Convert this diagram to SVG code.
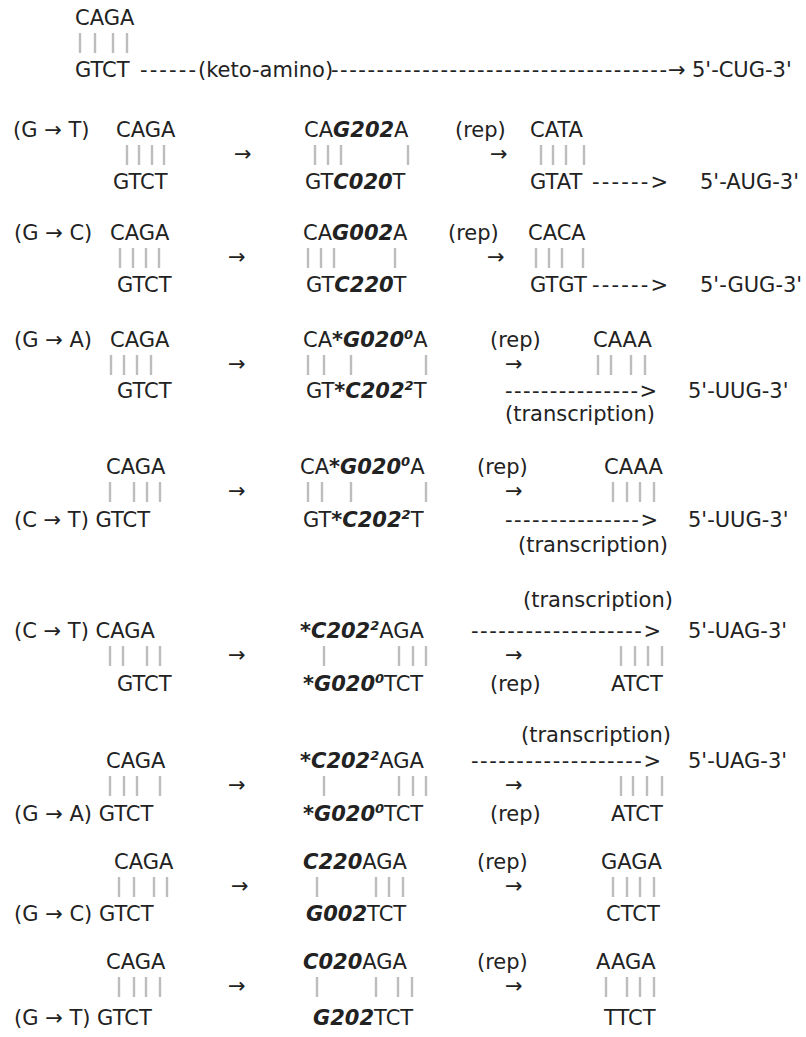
<svg xmlns="http://www.w3.org/2000/svg" width="806" height="1037" viewBox="0 0 806 1037">
<style>
text{font-family:"DejaVu Sans",Verdana,sans-serif;font-size:21px;fill:#222}
.bi{font-weight:bold;font-style:italic}
.bo{font-weight:bold}
.sp{font-size:13px;font-weight:bold;font-style:italic}
.bar{stroke:#bdbdbd;stroke-width:2.4}
</style>
<rect width="806" height="1037" fill="#fff"/>
<g id="row0">
<text x="75" y="25">CAGA</text>
<g class="bar"><path d="M80 33v20M95 33v20M113 33v20M127 33v20"/></g>
<text x="75" y="77">GTCT</text>
<text x="198" y="77">(keto-amino)</text>
<text x="692" y="77">5'-CUG-3'</text>
</g>
<g id="row1">
<text x="13" y="137">(G → T)</text>
<text x="116" y="137">CAGA</text>
<g class="bar"><path d="M127 145v20M139 145v20M152 145v20M164 145v20"/></g>
<text x="113" y="189">GTCT</text>
<text x="304" y="137">CA<tspan class="bi">G202</tspan>A</text>
<g class="bar"><path d="M315 145v20M328 145v20M341 145v20M408 145v20"/></g>
<text x="305" y="189">GT<tspan class="bi">C020</tspan>T</text>
<text x="455" y="137">(rep)</text>
<text x="530" y="137">CATA</text>
<g class="bar"><path d="M541 145v20M553 145v20M566 145v20M584 145v20"/></g>
<text x="530" y="189">GTAT</text>
<text x="700" y="189">5'-AUG-3'</text>
</g>
<g id="row2">
<text x="14" y="240">(G → C)</text>
<text x="110" y="240">CAGA</text>
<g class="bar"><path d="M120 248v20M133 248v20M146 248v20M159 248v20"/></g>
<text x="117" y="292">GTCT</text>
<text x="303" y="240">CA<tspan class="bi">G002</tspan>A</text>
<g class="bar"><path d="M308 248v20M321 248v20M334 248v20M395 248v20"/></g>
<text x="306" y="292">GT<tspan class="bi">C220</tspan>T</text>
<text x="448" y="240">(rep)</text>
<text x="528" y="240">CACA</text>
<g class="bar"><path d="M536 248v20M549 248v20M562 248v20M583 248v20"/></g>
<text x="530" y="292">GTGT</text>
<text x="700" y="292">5'-GUG-3'</text>
</g>
<g id="row3">
<text x="14" y="347">(G → A)</text>
<text x="110" y="347">CAGA</text>
<g class="bar"><path d="M111 355v20M124 355v20M137 355v20M151 355v20"/></g>
<text x="117" y="398">GTCT</text>
<text x="303" y="347">CA<tspan class="bo">*</tspan><tspan class="bi">G020</tspan><tspan class="sp" dy="-8">0</tspan><tspan dy="8">A</tspan></text>
<g class="bar"><path d="M308 355v20M324 355v20M351 355v20M426 355v20"/></g>
<text x="306" y="398">GT<tspan class="bo">*</tspan><tspan class="bi">C202</tspan><tspan class="sp" dy="-8">2</tspan><tspan dy="8">T</tspan></text>
<text x="490" y="347">(rep)</text>
<text x="593" y="347">CAAA</text>
<g class="bar"><path d="M598 355v20M611 355v20M631 355v20M645 355v20"/></g>
<text x="505" y="421">(transcription)</text>
<text x="688" y="398">5'-UUG-3'</text>
</g>
<g id="row4">
<text x="106" y="474">CAGA</text>
<g class="bar"><path d="M110 482v20M134 482v20M147 482v20M160 482v20"/></g>
<text x="14" y="527">(C → T) GTCT</text>
<text x="300" y="474">CA<tspan class="bo">*</tspan><tspan class="bi">G020</tspan><tspan class="sp" dy="-8">0</tspan><tspan dy="8">A</tspan></text>
<g class="bar"><path d="M308 482v20M322 482v20M351 482v20M426 482v20"/></g>
<text x="303" y="527">GT<tspan class="bo">*</tspan><tspan class="bi">C202</tspan><tspan class="sp" dy="-8">2</tspan><tspan dy="8">T</tspan></text>
<text x="477" y="474">(rep)</text>
<text x="604" y="474">CAAA</text>
<g class="bar"><path d="M613 482v20M627 482v20M640 482v20M654 482v20"/></g>
<text x="518" y="552">(transcription)</text>
<text x="688" y="527">5'-UUG-3'</text>
</g>
<g id="row5">
<text x="523" y="607">(transcription)</text>
<text x="14" y="638">(C → T) CAGA</text>
<g class="bar"><path d="M110 646v20M123 646v20M147 646v20M160 646v20"/></g>
<text x="117" y="691">GTCT</text>
<text x="300" y="638"><tspan class="bo">*</tspan><tspan class="bi">C202</tspan><tspan class="sp" dy="-8">2</tspan><tspan dy="8">AGA</tspan></text>
<g class="bar"><path d="M324 646v20M399 646v20M413 646v20M426 646v20"/></g>
<text x="303" y="691"><tspan class="bo">*</tspan><tspan class="bi">G020</tspan><tspan class="sp" dy="-8">0</tspan><tspan dy="8">TCT</tspan></text>
<text x="688" y="638">5'-UAG-3'</text>
<text x="490" y="691">(rep)</text>
<text x="611" y="691">ATCT</text>
<g class="bar"><path d="M621 646v20M635 646v20M648 646v20M662 646v20"/></g>
</g>
<g id="row6">
<text x="521" y="742">(transcription)</text>
<text x="106" y="768">CAGA</text>
<g class="bar"><path d="M110 776v20M124 776v20M137 776v20M160 776v20"/></g>
<text x="14" y="821">(G → A) GTCT</text>
<text x="300" y="768"><tspan class="bo">*</tspan><tspan class="bi">C202</tspan><tspan class="sp" dy="-8">2</tspan><tspan dy="8">AGA</tspan></text>
<g class="bar"><path d="M324 776v20M399 776v20M413 776v20M426 776v20"/></g>
<text x="303" y="821"><tspan class="bo">*</tspan><tspan class="bi">G020</tspan><tspan class="sp" dy="-8">0</tspan><tspan dy="8">TCT</tspan></text>
<text x="688" y="768">5'-UAG-3'</text>
<text x="490" y="821">(rep)</text>
<text x="611" y="821">ATCT</text>
<g class="bar"><path d="M621 776v20M633 776v20M647 776v20M662 776v20"/></g>
</g>
<g id="row7">
<text x="114" y="869">CAGA</text>
<g class="bar"><path d="M119 877v20M134 877v20M154 877v20M167 877v20"/></g>
<text x="14" y="921">(G → C) GTCT</text>
<text x="303" y="869"><tspan class="bi">C220</tspan>AGA</text>
<g class="bar"><path d="M317 877v20M376 877v20M389 877v20M403 877v20"/></g>
<text x="306" y="921"><tspan class="bi">G002</tspan>TCT</text>
<text x="477" y="869">(rep)</text>
<text x="601" y="869">GAGA</text>
<g class="bar"><path d="M613 877v20M627 877v20M640 877v20M654 877v20"/></g>
<text x="606" y="921">CTCT</text>
</g>
<g id="row8">
<text x="106" y="969">CAGA</text>
<g class="bar"><path d="M119 977v20M134 977v20M146 977v20M160 977v20"/></g>
<text x="14" y="1025">(G → T) GTCT</text>
<text x="303" y="969"><tspan class="bi">C020</tspan>AGA</text>
<g class="bar"><path d="M317 977v20M376 977v20M398 977v20M412 977v20"/></g>
<text x="313" y="1025"><tspan class="bi">G202</tspan>TCT</text>
<text x="477" y="969">(rep)</text>
<text x="596" y="969">AAGA</text>
<g class="bar"><path d="M606 977v20M627 977v20M640 977v20M654 977v20"/></g>
<text x="604" y="1025">TTCT</text>
</g>
<g id="connectors">
<text x="140" y="77" textLength="56" lengthAdjust="spacing">------</text>
<text x="331" y="77" textLength="336" lengthAdjust="spacing">-------------------------------------</text>
<text x="668" y="77">→</text>
<text x="234" y="161">→</text>
<text x="490" y="161">→</text>
<text x="592" y="189" textLength="76" lengthAdjust="spacing">------&gt;</text>
<text x="228" y="264">→</text>
<text x="487" y="264">→</text>
<text x="592" y="292" textLength="76" lengthAdjust="spacing">------&gt;</text>
<text x="228" y="371">→</text>
<text x="505" y="371">→</text>
<text x="505" y="398" textLength="152" lengthAdjust="spacing">---------------&gt;</text>
<text x="228" y="498">→</text>
<text x="505" y="498">→</text>
<text x="505" y="527" textLength="153" lengthAdjust="spacing">---------------&gt;</text>
<text x="228" y="662">→</text>
<text x="505" y="662">→</text>
<text x="471" y="638" textLength="190" lengthAdjust="spacing">-------------------&gt;</text>
<text x="228" y="792">→</text>
<text x="505" y="792">→</text>
<text x="471" y="768" textLength="190" lengthAdjust="spacing">-------------------&gt;</text>
<text x="231" y="893">→</text>
<text x="505" y="893">→</text>
<text x="228" y="993">→</text>
<text x="505" y="993">→</text>
</g>
</svg>
